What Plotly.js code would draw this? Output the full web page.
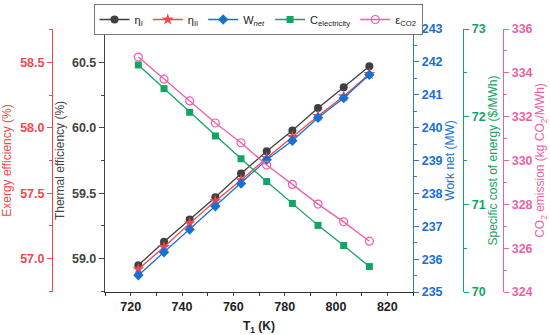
<!DOCTYPE html>
<html><head><meta charset="utf-8">
<script src="https://cdn.plot.ly/plotly-3.0.1.min.js"></script>
<style>html,body{margin:0;padding:0;background:#fff}#chart{width:550px;height:335px}</style>
</head><body><div id="chart"></div>
<script>
const T1 = [723, 733, 743, 753, 763, 773, 783, 793, 803, 813];
const etaI = [58.95, 59.13, 59.30, 59.47, 59.65, 59.82, 59.98, 60.15, 60.31, 60.47];
const etaII = [56.92, 57.09, 57.27, 57.44, 57.60, 57.77, 57.93, 58.09, 58.24, 58.41];
const Wnet = [235.51, 236.21, 236.90, 237.61, 238.30, 239.02, 239.60, 240.30, 240.90, 241.61];
const Celec = [72.59, 72.32, 72.05, 71.78, 71.52, 71.26, 71.01, 70.76, 70.53, 70.29];
const eCO2 = [334.72, 333.71, 332.72, 331.71, 330.81, 329.79, 328.91, 328.01, 327.20, 326.32];
const names = ['η<sub>I</sub>', 'η<sub>II</sub>', 'W<sub><i>net</i></sub>', 'C<sub>electricity</sub>', 'ε<sub>CO2</sub>'];

const cBlack = '#404040', cRed = '#f2484c', cBlue = '#1a6fd2', cGreen = '#12a464', cPink = '#ee5fa6';
const FONT = 'Liberation Sans, Arial, sans-serif';

const traces = [
  {x: T1, y: etaI, name: names[0], yaxis: 'y', mode: 'lines+markers', line: {color: cBlack, width: 1.3}, marker: {symbol: 'circle', size: 8, color: cBlack}},
  {x: T1, y: etaII, name: names[1], yaxis: 'y2', mode: 'lines+markers', line: {color: cRed, width: 1.3}, marker: {symbol: 'star', size: 9, color: cRed}},
  {x: T1, y: Wnet, name: names[2], yaxis: 'y3', mode: 'lines+markers', line: {color: cBlue, width: 1.3}, marker: {symbol: 'diamond', size: 8, color: cBlue}},
  {x: T1, y: Celec, name: names[3], yaxis: 'y4', mode: 'lines+markers', line: {color: cGreen, width: 1.3}, marker: {symbol: 'square', size: 7, color: cGreen}},
  {x: T1, y: eCO2, name: names[4], yaxis: 'y5', mode: 'lines+markers', line: {color: cPink, width: 1.3}, marker: {symbol: 'circle-open', size: 8, color: cPink, line: {width: 1.2}}}
];

const x0 = 105/550, x1 = 413/550;
function yax(color, range, dtick, minor, title, extra) {
  return Object.assign({
    range: range, dtick: dtick, tick0: range[0], showgrid: false, zeroline: false,
    showline: true, linecolor: color, linewidth: 1.2, ticks: 'outside', ticklen: 5, tickcolor: color,
    minor: {dtick: minor, ticklen: 3, tickcolor: color, ticks: 'outside'},
    tickfont: {family: FONT, size: 12.5, color: color, weight: 'bold'},
    title: {text: title, font: {family: FONT, size: 12, color: color}, standoff: 4}
  }, extra);
}

const layout = {
  width: 550, height: 335,
  margin: {l: 0, r: 0, t: 29, b: 43},
  paper_bgcolor: '#fff', plot_bgcolor: '#fff',
  showlegend: true,
  legend: {orientation: 'h', x: 258/550, xanchor: 'center', y: 1.095, yanchor: 'top',
    bordercolor: '#777', borderwidth: 1, font: {family: FONT, size: 11, color: '#222'},
    itemwidth: 30, tracegroupgap: 0},
  xaxis: {domain: [x0, x1], range: [710, 830], dtick: 20, tick0: 720, showgrid: false, zeroline: false,
    showline: true, linecolor: '#333', linewidth: 1.2, ticks: 'outside', ticklen: 3,
    minor: {dtick: 10, ticklen: 3, ticks: 'outside', tickcolor: '#333'},
    tickfont: {family: FONT, size: 12.5, color: '#222', weight: 'bold'},
    title: {text: 'T<sub>1</sub> (K)', font: {family: FONT, size: 12, color: '#222', weight: 'bold'}, standoff: 8}},
  yaxis: yax('#444', [58.746, 60.754], 0.5, 0.25, 'Thermal efficiency (%)', {anchor: 'x', side: 'left', tick0: 59, tickformat: '.1f'}),
  yaxis2: yax(cRed, [56.746, 58.754], 0.5, 0.25, 'Exergy efficiency (%)', {overlaying: 'y', anchor: 'free', position: 52/550, side: 'left', tick0: 57, tickformat: '.1f'}),
  yaxis3: yax('#2a7db5', [235, 243], 1, 0.5, 'Work net (MW)', {overlaying: 'y', anchor: 'x', side: 'right'}),
  yaxis4: yax(cGreen, [70, 73], 1, 0.5, 'Specific cost of energy ($/MWh)', {overlaying: 'y', anchor: 'free', position: 463/550, side: 'right'}),
  yaxis5: yax(cPink, [324, 336], 2, 1, 'CO<sub>2</sub> emission (kg CO<sub>2</sub>/MWh)', {overlaying: 'y', anchor: 'free', position: 503/550, side: 'right'})
};
layout.yaxis3.tickfont.color = cBlue;
layout.yaxis3.title.font.color = cBlue;

Plotly.newPlot('chart', traces, layout, {displayModeBar: false, staticPlot: true});
</script></body></html>
